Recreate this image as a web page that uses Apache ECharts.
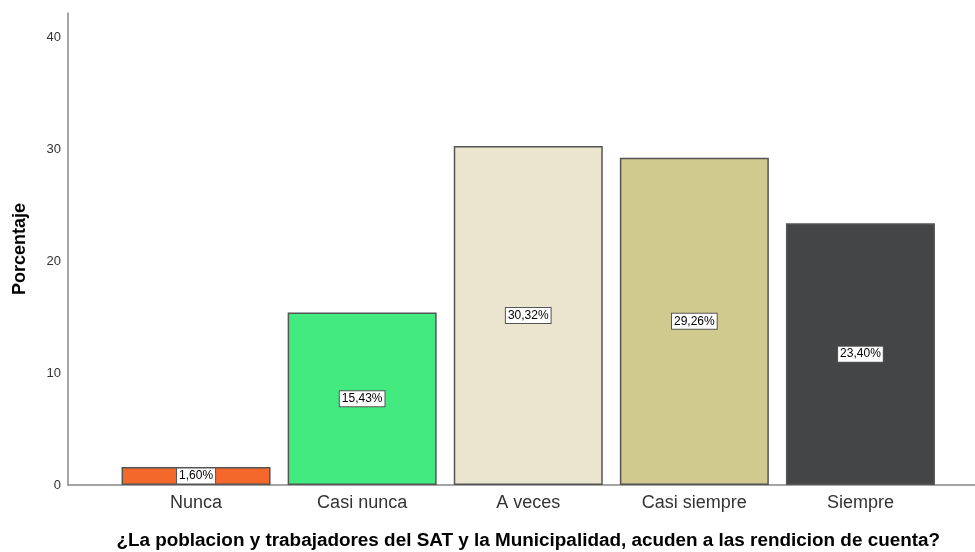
<!DOCTYPE html>
<html>
<head>
<meta charset="utf-8">
<script src="https://cdn.jsdelivr.net/npm/echarts@6/dist/echarts.min.js"></script>
<style>
  html, body { margin: 0; padding: 0; background: #fff; }
  #chart { width: 975px; height: 552px; }
</style>
</head>
<body>
<div id="chart"></div>
<script>
// Response categories and their percentages
const categories = ['Nunca', 'Casi nunca', 'A veces', 'Casi siempre', 'Siempre'];
const percentages = [1.60, 15.43, 30.32, 29.26, 23.40];
const barColors = ['#F4682C', '#42EA80', '#EBE4CF', '#D0CA8E', '#444547'];
const yTicks = [0, 10, 20, 30, 40];

const yMax = 42.2;
const fmt = v => v.toFixed(2).replace('.', ',') + '%';

const chart = echarts.init(document.getElementById('chart'), null, { renderer: 'canvas' });

const font = 'Arial, "Liberation Sans", sans-serif';

chart.setOption({
  animation: false,
  backgroundColor: '#fff',
  grid: [
    // frame grid: carries the visible axes
    { left: 68, right: 0, top: 13, bottom: 67, outerBoundsMode: 'none', containLabel: false },
    // plotting grid: bars inset from the axis
    { left: 113, right: 31.5, top: 13, bottom: 67, outerBoundsMode: 'none', containLabel: false }
  ],
  xAxis: [
    {
      gridIndex: 0, type: 'category', data: [''],
      axisLine: { show: true, lineStyle: { color: '#888', width: 1.5 } },
      axisTick: { show: false }, axisLabel: { show: false }, splitLine: { show: false }
    },
    {
      gridIndex: 1, type: 'category', data: categories,
      axisLine: { show: false }, axisTick: { show: false },
      axisLabel: { color: '#333', fontSize: 18, fontFamily: font, margin: 9 },
      name: '¿La poblacion y trabajadores del SAT y la Municipalidad, acuden a las rendicion de cuenta?',
      nameLocation: 'middle', nameGap: 46,
      nameTextStyle: { color: '#000', fontSize: 18.9, fontWeight: 'bold', fontFamily: font }
    }
  ],
  yAxis: [
    {
      gridIndex: 0, type: 'value', min: 0, max: yMax,
      axisLine: { show: true, lineStyle: { color: '#888', width: 1.5 } },
      splitLine: { show: false },
      axisLabel: {
        color: '#333', fontSize: 13, fontFamily: font, margin: 7,
        customValues: yTicks
      },
      axisTick: { show: false, customValues: yTicks },
      name: 'Porcentaje', nameLocation: 'middle', nameGap: 39, nameRotate: 90,
      nameTextStyle: { color: '#000', fontSize: 18, fontWeight: 'bold', fontFamily: font }
    },
    {
      gridIndex: 1, type: 'value', min: 0, max: yMax, show: false
    }
  ],
  series: [
    {
      type: 'bar',
      xAxisIndex: 1, yAxisIndex: 1,
      barWidth: 149,
      data: percentages.map((v, i) => ({
        value: v,
        itemStyle: { color: barColors[i] }
      })),
      itemStyle: { borderColor: '#555', borderWidth: 1.5 },
      label: {
        show: true, position: 'inside',
        formatter: p => fmt(p.value),
        color: '#000', fontSize: 12, fontFamily: font,
        backgroundColor: '#fff', borderColor: '#555', borderWidth: 1,
        padding: [2, 2, 1, 2]
      }
    }
  ]
});
</script>
</body>
</html>
